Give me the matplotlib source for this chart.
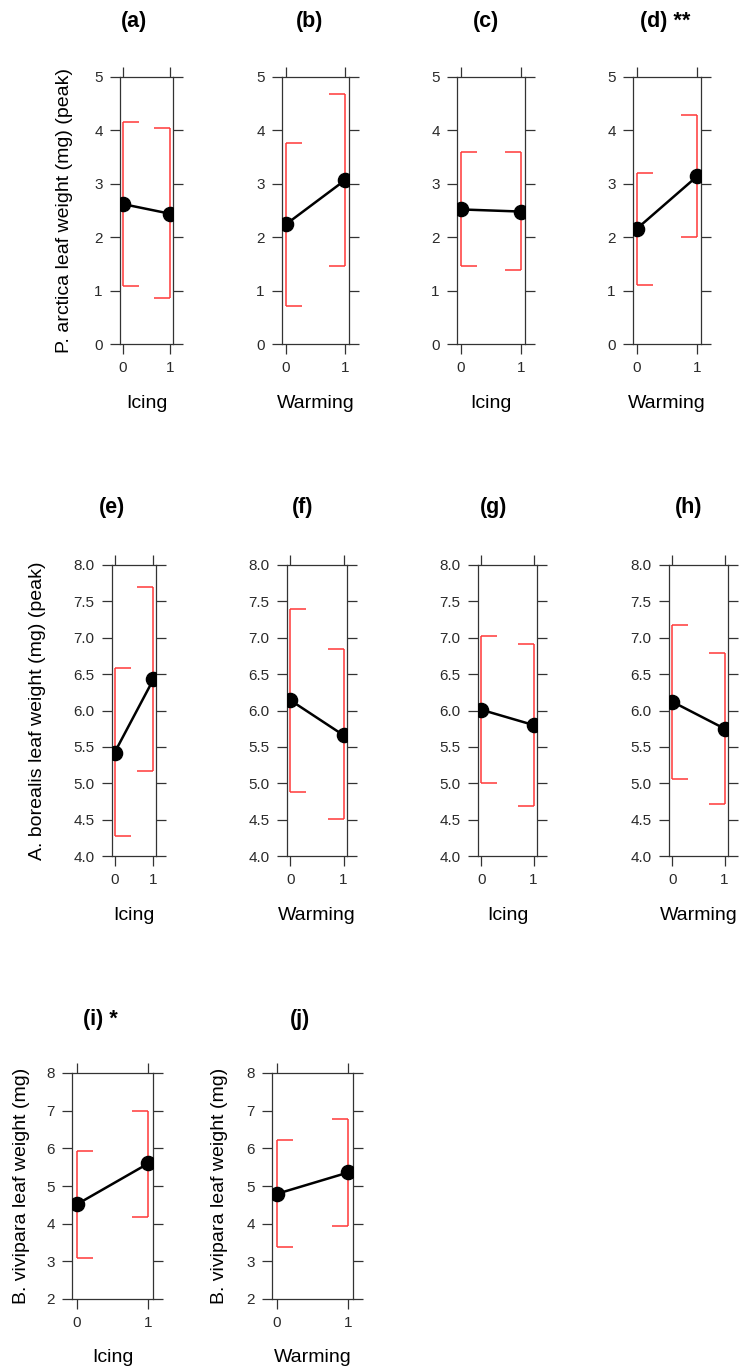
import matplotlib
matplotlib.use('Agg')
import matplotlib.pyplot as plt
import numpy as np

plt.rcParams['font.family'] = ['Liberation Sans', 'DejaVu Sans']

# panel data: mean and interval ends at treatment level 0 and 1
titles = ['(a)', '(b)', '(c)', '(d) **', '(e)', '(f)', '(g)', '(h)', '(i) *', '(j)']
treatments = ['Icing', 'Warming', 'Icing', 'Warming',
              'Icing', 'Warming', 'Icing', 'Warming',
              'Icing', 'Warming']
levels = [0, 1]
means = [[2.62, 2.44], [2.24, 3.07], [2.52, 2.48], [2.16, 3.14],
         [5.42, 6.43], [6.14, 5.66], [6.01, 5.80], [6.12, 5.75],
         [4.51, 5.60], [4.79, 5.36]]
upper = [[4.15, 4.05], [3.77, 4.69], [3.59, 3.59], [3.21, 4.28],
         [6.59, 7.70], [7.40, 6.84], [7.02, 6.92], [7.17, 6.79],
         [5.93, 7.00], [6.22, 6.78]]
lower = [[1.09, 0.87], [0.72, 1.46], [1.47, 1.38], [1.10, 2.00],
         [4.27, 5.17], [4.88, 4.51], [5.01, 4.69], [5.06, 4.72],
         [3.10, 4.19], [3.39, 3.95]]

ylabels = ['P. arctica leaf weight (mg) (peak)',
           'A. borealis leaf weight (mg) (peak)',
           'B. vivipara leaf weight (mg)',
           'B. vivipara leaf weight (mg)']
row_yticks = [np.arange(0, 5.1, 1), np.arange(4, 8.01, 0.5), np.arange(2, 8.1, 1)]
row_ylim = [(0, 5), (4, 8), (2, 8)]
row_fmt = ['%g', '%.1f', '%g']

W, H = 744, 1370
fig = plt.figure(figsize=(W / 100, H / 100), dpi=100)

# panel boxes in pixels: left, right, top, bottom
boxes = [(120, 173, 77, 344), (282, 349, 77, 344), (457, 525, 77, 344), (633, 701, 77, 344),
         (112, 156, 565, 856), (287, 347, 565, 856), (478, 537, 565, 856), (669, 728, 565, 856),
         (72, 153, 1073, 1299), (272, 353, 1073, 1299)]
rows = [0, 0, 0, 0, 1, 1, 1, 1, 2, 2]
title_pos = [(134, 22), (310, 22), (486, 22), (665, 22),
             (112, 507), (303, 507), (494, 507), (689, 507),
             (100, 1020), (300, 1020)]
ylab_pos = [(65, 0), (38, 4), (22, 8), (220, 9)]

axis_col = '#333333'
err_col = '#ff3838'
cap_px = 16
pad = 0.065

for k in range(10):
    l, r, t, b = boxes[k]
    row = rows[k]
    ax = fig.add_axes([l / W, 1 - b / H, (r - l) / W, (b - t) / H])
    ax.set_xlim(-pad, 1 + pad)
    ax.set_ylim(*row_ylim[row])
    span = (1 + 2 * pad) / (r - l)
    cap = cap_px * span
    for j, x in enumerate(levels):
        ax.vlines(x, lower[k][j], upper[k][j], color=err_col, lw=1.1)
        d = cap if j == 0 else -cap
        ax.hlines([lower[k][j], upper[k][j]], x, x + d, color=err_col, lw=1.1)
    ax.plot(levels, means[k], color='black', lw=1.8, marker='o', ms=10.2, zorder=5)

    ax.set_xticks(levels)
    ax.set_yticks(row_yticks[row])
    ax.yaxis.set_major_formatter(matplotlib.ticker.FormatStrFormatter(row_fmt[row]))
    ax.tick_params(direction='out', length=7.5, width=0.9, color=axis_col,
                   labelsize=11, labelcolor='#2a2a2a', pad=5,
                   top=True, right=True, labeltop=False, labelright=False)
    for s in ax.spines.values():
        s.set_color(axis_col)
        s.set_linewidth(0.9)

    fig.text(title_pos[k][0] / W, 1 - title_pos[k][1] / H, titles[k],
             ha='center', va='center', fontsize=15.5, fontweight='bold')
    xl_y = b + 59
    fig.text((l + r) / 2 / W, 1 - xl_y / H, treatments[k],
             ha='center', va='center', fontsize=14)

for i, (px, k) in enumerate(ylab_pos):
    l, r, t, b = boxes[k]
    fig.text(px / W, 1 - (t + b) / 2 / H, ylabels[i], rotation=90,
             ha='center', va='center', fontsize=14)

fig.savefig('out.png', dpi=100)
